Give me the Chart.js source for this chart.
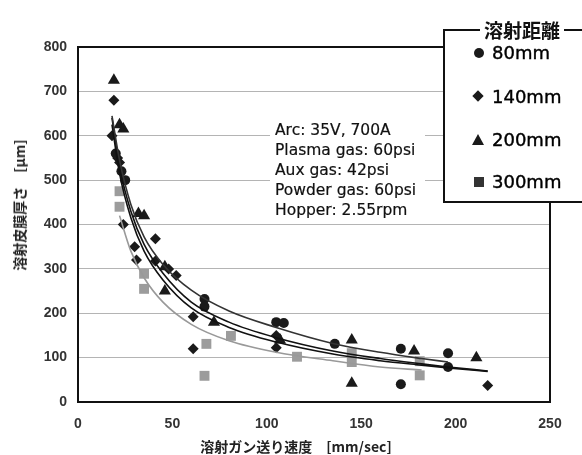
<!DOCTYPE html>
<html>
<head>
<meta charset="utf-8">
<script src="https://cdn.jsdelivr.net/npm/chart.js@4.4.0/dist/chart.umd.min.js"></script>
<style>
    body { margin: 0; background: #fff; }
    #wrap { position: relative; width: 582px; height: 455px; overflow: hidden; }
    #chart { position: absolute; left: 0; top: 0; }
    .ttl { position: absolute; font-family: "Noto Sans CJK JP", sans-serif; font-weight: bold;
           font-size: 14px; color: #222; white-space: nowrap; line-height: 1; }
    #ytitle { left: 19px; top: 205px; transform: translate(-50%, -50%) rotate(-90deg); }
    #xtitle { left: 296px; top: 446px; transform: translate(-50%, -50%); }
    #note { position: absolute; left: 270px; top: 120px; width: 155px; height: 96px; background: #fff;
            font-family: "DejaVu Sans", sans-serif; font-size: 15.5px; line-height: 20px; color: #111;
            padding-left: 5px; box-sizing: border-box; -webkit-text-stroke: 0.2px #111; }
    #legend { position: absolute; left: 443px; top: 29px; width: 160px; height: 174px;
              border: 2px solid #111; background: #fff; box-sizing: border-box; }
    #legend .head { position: absolute; left: 35px; top: -12px; padding: 0 4px; background: #fff;
                    font-family: "Noto Sans CJK JP", sans-serif; font-weight: bold; font-size: 19px;
                    line-height: 22px; color: #111; }
    #legend .item { position: absolute; left: 47px; font-family: "DejaVu Sans", sans-serif;
                    font-size: 18px; line-height: 20px; color: #000; transform: translateY(-50%);
                    -webkit-text-stroke: 0.4px #000; }
    .mk { position: absolute; background: #1a1a1a; }
</style>
</head>
<body>
<div id="wrap">
    <canvas id="chart" width="582" height="455"></canvas>
    <div id="ytitle" class="ttl">溶射皮膜厚さ　[μm]</div>
    <div id="xtitle" class="ttl">溶射ガン送り速度　[mm/sec]</div>
    <div id="note"></div>
    <div id="legend"><div class="head">溶射距離</div></div>
</div>
<script>
// measured points, one pair of arrays per spray distance
const P80_X = [20, 23, 25, 67, 67, 105, 109, 136, 171, 171, 196, 196];
const P80_Y = [560, 520, 500, 232, 215, 180, 178, 131, 120, 40, 110, 79];

const P140_X = [19, 18, 21, 22, 24, 30, 31, 41, 41, 48, 52, 61, 61, 105, 105, 217];
const P140_Y = [680, 600, 550, 540, 400, 350, 320, 368, 318, 300, 285, 192, 120, 150, 122, 37];

const P200_X = [19, 22, 24, 32, 35, 46, 46, 72, 107, 145, 145, 178, 211];
const P200_Y = [725, 625, 615, 425, 420, 305, 250, 180, 140, 140, 42, 115, 100];

const P300_X = [22, 22, 35, 35, 68, 67, 81, 116, 145, 145, 181, 181];
const P300_Y = [475, 440, 289, 255, 131, 59, 149, 102, 110, 90, 92, 60];

// trend curves (null = outside the curve's range)
const CURVE_X = [18, 22, 28, 35, 45, 60, 80, 105, 135, 160, 182, 196, 217];
const FIT_80  = [645, 545, 445, 372, 310, 252, 205, 168, 132, 112, 98, 90, null];
const FIT_140 = [640, 530, 430, 355, 290, 225, 180, 145, 115, 98, 86, 79, 70];
const FIT_200 = [625, 515, 415, 340, 275, 212, 168, 135, 108, 93, 83, 77, 69];
const FIT_300 = [null, 420, 340, 280, 225, 175, 138, 112, 93, 79, 72, null, null];

const SERIES_LABELS = ['80mm', '140mm', '200mm', '300mm'];
const NOTE_LINES = ['Arc: 35V, 700A', 'Plasma gas: 60psi', 'Aux gas: 42psi', 'Powder gas: 60psi', 'Hopper: 2.55rpm'];

function pts(xs, ys) {
    return xs.map((x, i) => ({ x: x, y: ys[i] })).filter(p => p.y !== null);
}

function curve(ys, color) {
    return {
        type: 'line',
        data: pts(CURVE_X, ys),
        borderColor: color,
        borderWidth: 1.6,
        pointRadius: 0,
        fill: false,
        cubicInterpolationMode: 'monotone'
    };
}

function marks(xs, ys, style, r, color, label) {
    return {
        type: 'scatter',
        label: label,
        data: pts(xs, ys),
        pointStyle: style,
        pointRadius: r,
        pointBackgroundColor: color,
        pointBorderWidth: 0,
        borderWidth: 0
    };
}

const frame = {
    id: 'frame',
    afterDraw(chart) {
        const a = chart.chartArea;
        const ctx = chart.ctx;
        ctx.save();
        ctx.strokeStyle = '#111';
        ctx.lineWidth = 2;
        ctx.strokeRect(a.left, a.top, a.right - a.left, a.bottom - a.top);
        ctx.restore();
    }
};

const tickFont = { family: 'Liberation Sans', size: 14, weight: 'bold' };

new Chart(document.getElementById('chart'), {
    data: {
        datasets: [
            curve(FIT_80, '#333'),
            curve(FIT_140, '#111'),
            curve(FIT_200, '#111'),
            curve(FIT_300, '#999'),
            marks(P80_X, P80_Y, 'circle', 5, '#1a1a1a', SERIES_LABELS[0]),
            marks(P140_X, P140_Y, 'rectRot', 5.5, '#1a1a1a', SERIES_LABELS[1]),
            marks(P200_X, P200_Y, 'triangle', 7, '#1a1a1a', SERIES_LABELS[2]),
            marks(P300_X, P300_Y, 'rect', 7, '#9c9c9c', SERIES_LABELS[3])
        ]
    },
    options: {
        responsive: false,
        animation: false,
        layout: { padding: { top: 47, right: 32, left: 0, bottom: 0 } },
        plugins: { legend: { display: false }, tooltip: { enabled: false } },
        scales: {
            x: {
                type: 'linear',
                min: 0,
                max: 250,
                ticks: { stepSize: 50, font: tickFont, color: '#333', padding: 14 },
                grid: { display: false, drawTicks: false },
                border: { display: false },
                afterFit: s => { s.height = 53; }
            },
            y: {
                min: 0,
                max: 800,
                ticks: { stepSize: 100, font: tickFont, color: '#333', padding: 11 },
                grid: { color: '#b4b4b4', lineWidth: 1, drawTicks: false },
                border: { display: false },
                afterFit: s => { s.width = 78; }
            }
        }
    },
    plugins: [frame]
});

// note box
document.getElementById('note').innerHTML = NOTE_LINES.join('<br>');

// legend items with their marker shapes
const legend = document.getElementById('legend');
const itemTops = [22, 66, 109, 151];
const shapes = [
    'width:10px;height:10px;border-radius:50%;',
    'width:8px;height:8px;transform:rotate(45deg);',
    'width:0;height:0;background:none;border-left:6px solid transparent;border-right:6px solid transparent;border-bottom:11px solid #1a1a1a;',
    'width:10px;height:10px;background:#333;'
];
SERIES_LABELS.forEach((lab, i) => {
    const t = document.createElement('div');
    t.className = 'item';
    t.style.top = itemTops[i] + 'px';
    t.textContent = lab;
    legend.appendChild(t);
    const m = document.createElement('div');
    m.className = 'mk';
    m.style.cssText += shapes[i];
    m.style.left = (i === 2 ? 27 : 29) + 'px';
    m.style.top = (itemTops[i] - (i === 2 ? 6 : 5)) + 'px';
    legend.appendChild(m);
});
</script>
</body>
</html>
